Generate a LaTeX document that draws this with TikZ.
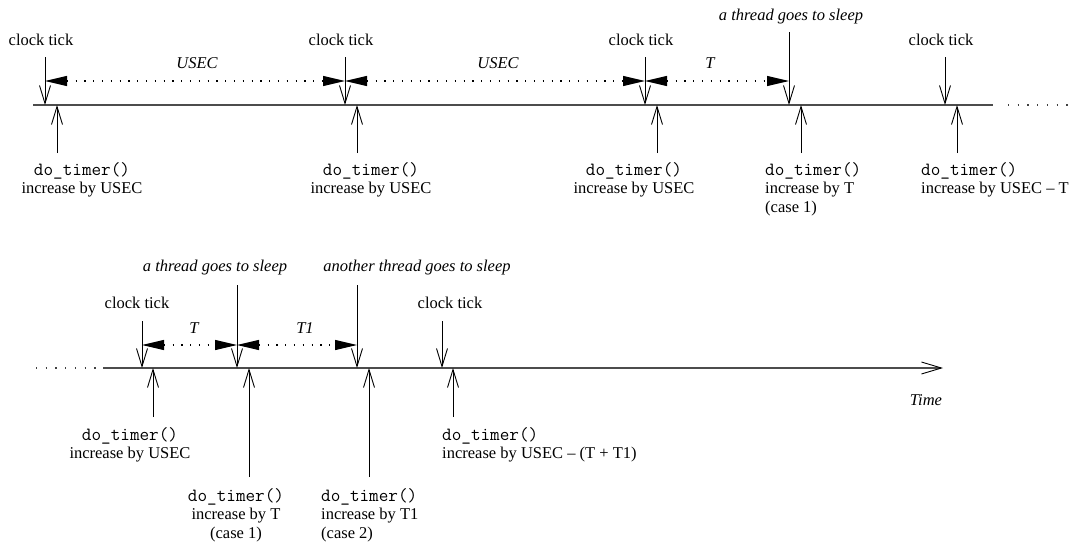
\documentclass[tikz,border=0pt]{standalone}
\usepackage{fontspec}
\setmainfont{Liberation Serif}
\setmonofont{Latin Modern Mono}[Scale=1.13]
\usetikzlibrary{arrows.meta}

\tikzset{
  axis/.style={line width=1.4pt, draw=black!70},
  dots/.style={line width=1.3pt, draw=black!75, dash pattern=on 1.3pt off 8.4pt},
  tickarrow/.style={-{Straight Barb[length=18pt,width=11pt]}, line width=0.9pt},
  span/.style={{Triangle[length=22pt,width=10pt]}-{Triangle[length=22pt,width=10pt]},
    line width=1.1pt, dash pattern=on 1.2pt off 7.6pt},
  txt/.style={inner sep=0pt, font=\fontsize{16.5}{18.7}\selectfont},
}

\begin{document}
\begin{tikzpicture}[x=1pt,y=-1pt]
  \useasboundingbox (0,0) rectangle (1075,554);

  % upper time line
  \coordinate (a0) at (33,105);
  \coordinate (a1) at (993,105);
  \draw[axis] (a0) -- (a1);
  \coordinate (d0) at (1008,105);
  \coordinate (d1) at (1068,105);
  \draw[dots] (d0) -- (d1);

  \coordinate (tick1) at (45,105);
  \coordinate (tick2) at (345,105);
  \coordinate (tick3) at (645,105);
  \coordinate (sleep1) at (789,105);
  \coordinate (tick4) at (945,105);
  \coordinate (call1) at (57,105);
  \coordinate (call2) at (357,105);
  \coordinate (call3) at (657,105);
  \coordinate (call4) at (801,105);
  \coordinate (call5) at (957,105);

  \draw[tickarrow] ([yshift=48pt]tick1) -- (tick1);
  \draw[tickarrow] ([yshift=48pt]tick2) -- (tick2);
  \draw[tickarrow] ([yshift=48pt]tick3) -- (tick3);
  \draw[tickarrow] ([yshift=73pt]sleep1) -- (sleep1);
  \draw[tickarrow] ([yshift=48pt]tick4) -- (tick4);
  \draw[tickarrow] ([yshift=-48pt]call1) -- (call1);
  \draw[tickarrow] ([yshift=-48pt]call2) -- (call2);
  \draw[tickarrow] ([yshift=-48pt]call3) -- (call3);
  \draw[tickarrow] ([yshift=-48pt]call4) -- (call4);
  \draw[tickarrow] ([yshift=-48pt]call5) -- (call5);

  \draw[span] ([yshift=24pt]tick1) -- ([yshift=24pt]tick2);
  \draw[span] ([yshift=24pt]tick2) -- ([yshift=24pt]tick3);
  \draw[span] ([yshift=24pt]tick3) -- ([yshift=24pt]sleep1);

  \node[txt] (ck1) at (41,40) {clock tick};
  \node[txt] (ck2) at (341,40) {clock tick};
  \node[txt] (ck3) at (641,40) {clock tick};
  \node[txt] (ck4) at (941,40) {clock tick};
  \node[txt] (zz1) at (791,17) {\itshape a thread goes to sleep};
  \node[txt] (len1) at (197,63) {\itshape USEC};
  \node[txt] (len2) at (498,63) {\itshape USEC};
  \node[txt] (len3) at (710,63) {\itshape T};

  \node[txt, anchor=north, align=center] (inc1) at (82,162)
    {\ttfamily do\_timer()\\increase by USEC};
  \node[txt, anchor=north, align=center] (inc2) at (371,162)
    {\ttfamily do\_timer()\\increase by USEC};
  \node[txt, anchor=north, align=center] (inc3) at (634,162)
    {\ttfamily do\_timer()\\increase by USEC};
  \node[txt, anchor=north west, align=left] (inc4) at (765,162)
    {\ttfamily do\_timer()\\increase by T\\(case 1)};
  \node[txt, anchor=north west, align=left] (inc5) at (921,162)
    {\ttfamily do\_timer()\\increase by USEC -- T};

  % lower time line
  \coordinate (e0) at (36,368);
  \coordinate (e1) at (97,368);
  \draw[dots] (e0) -- (e1);
  \coordinate (b0) at (103,368);
  \coordinate (b1) at (943,368);
  \draw[axis, -{Straight Barb[length=20pt,width=12pt,line width=0.9pt,color=black]}] (b0) -- (b1);

  \coordinate (tick5) at (142,368);
  \coordinate (sleep2) at (237,368);
  \coordinate (sleep3) at (357,368);
  \coordinate (tick6) at (442,368);
  \coordinate (call6) at (153,368);
  \coordinate (call7) at (249,368);
  \coordinate (call8) at (369,368);
  \coordinate (call9) at (453,368);

  \draw[tickarrow] ([yshift=47pt]tick5) -- (tick5);
  \draw[tickarrow] ([yshift=83pt]sleep2) -- (sleep2);
  \draw[tickarrow] ([yshift=83pt]sleep3) -- (sleep3);
  \draw[tickarrow] ([yshift=47pt]tick6) -- (tick6);
  \draw[tickarrow] ([yshift=-49pt]call6) -- (call6);
  \draw[tickarrow] ([yshift=-109pt]call7) -- (call7);
  \draw[tickarrow] ([yshift=-109pt]call8) -- (call8);
  \draw[tickarrow] ([yshift=-49pt]call9) -- (call9);

  \draw[span] ([yshift=23pt]tick5) -- ([yshift=23pt]sleep2);
  \draw[span] ([yshift=23pt]sleep2) -- ([yshift=23pt]sleep3);

  \node[txt] (ck5) at (137,303) {clock tick};
  \node[txt] (ck6) at (450,303) {clock tick};
  \node[txt] (zz2) at (215,268) {\itshape a thread goes to sleep};
  \node[txt] (zz3) at (417,268) {\itshape another thread goes to sleep};
  \node[txt] (len4) at (194,328) {\itshape T};
  \node[txt] (len5) at (305,328) {\itshape T1};
  \node[txt] (time) at (926,400) {\itshape Time};

  \node[txt, anchor=north, align=center] (inc6) at (130,427)
    {\ttfamily do\_timer()\\increase by USEC};
  \node[txt, anchor=north, align=center] (inc7) at (236,488)
    {\ttfamily do\_timer()\\increase by T\\(case 1)};
  \node[txt, anchor=north west, align=left] (inc8) at (321,488)
    {\ttfamily do\_timer()\\increase by T1\\(case 2)};
  \node[txt, anchor=north west, align=left] (inc9) at (442,427)
    {\ttfamily do\_timer()\\increase by USEC -- (T + T1)};
\end{tikzpicture}
\end{document}
